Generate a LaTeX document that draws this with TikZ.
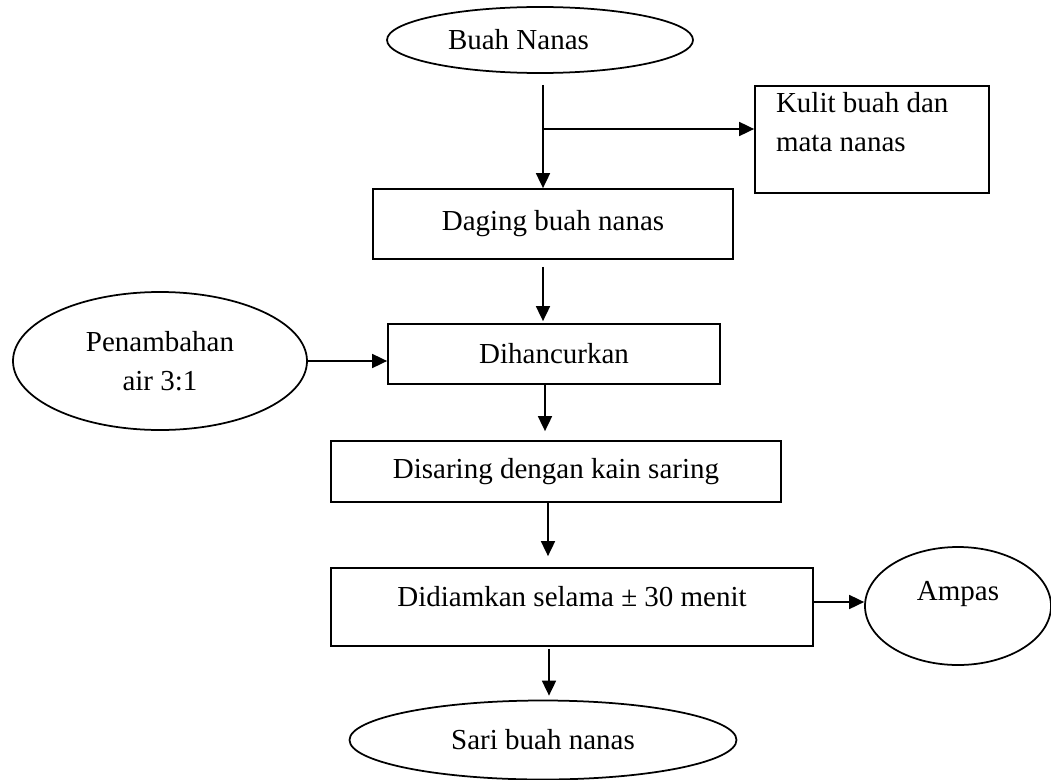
\documentclass[tikz,border=0pt]{standalone}
\usepackage{fontspec}
\setmainfont{Liberation Serif}
\usetikzlibrary{shapes.geometric,arrows.meta}

\begin{document}
\begin{tikzpicture}[x=0.4pt, y=-0.4pt]
  \tikzstyle{every node}=[font=\fontsize{11.6pt}{15.6pt}\selectfont]
  \tikzstyle{box}=[rectangle, draw, line width=0.7pt, inner sep=0pt]
  \tikzstyle{oval}=[ellipse, draw, line width=0.7pt, inner sep=0pt]
  \tikzstyle{arrow}=[-{Triangle[length=6pt,width=5.6pt]}, line width=0.7pt]

  \useasboundingbox (0,0) rectangle (1051,779);

  \node[oval, minimum width=122.4pt, minimum height=26.4pt,
        text width=73.6pt, align=flush left]                (buah)   at (540,40)    {Buah Nanas};
  \node[box, minimum width=93.6pt, minimum height=42.8pt,
        text width=76.8pt, align=flush left, text depth=29.6pt] (kulit) at (872,139.5) {Kulit buah dan\\mata nanas};
  \node[box, minimum width=144pt, minimum height=28pt]       (daging) at (553,224)   {Daging buah nanas};
  \node[oval, minimum width=117.6pt, minimum height=55.2pt,
        align=center]                                       (tambah) at (160,361)   {Penambahan\\air 3:1};
  \node[box, minimum width=132.8pt, minimum height=24pt]     (hancur) at (554,354)   {Dihancurkan};
  \node[box, minimum width=180pt, minimum height=24.4pt]     (saring) at (556,471.5) {Disaring dengan kain saring};
  \node[box, minimum width=192.8pt, minimum height=31.2pt,
        text depth=8.8pt]                                   (diam)   at (572,607)   {Didiamkan selama ± 30 menit};
  \node[oval, minimum width=74.4pt, minimum height=47.2pt,
        text depth=12.4pt]                                  (ampas)  at (958,606)   {Ampas};
  \node[oval, minimum width=154.8pt, minimum height=31.6pt]  (sari)   at (543,740)   {Sari buah nanas};

  % main line
  \draw[arrow] ([xshift=1.2pt,yshift=-4.4pt]buah.south) coordinate (t1) -- (t1 |- daging.north);
  \path ([yshift=4.2pt]kulit.west) coordinate (k1);
  \draw[arrow] (k1 -| t1) -- (k1);
  \draw[arrow, shorten >=0.8pt] ([xshift=-4pt,yshift=-2.8pt]daging.south) coordinate (t2) -- (t2 |- hancur.north);
  \draw[arrow] (tambah.east) -- (hancur.west |- tambah.east);
  \draw[arrow, shorten >=3.6pt] ([xshift=-3.6pt]hancur.south) coordinate (t3) -- (t3 |- saring.north);
  \draw[arrow, shorten >=4.4pt] ([xshift=-3.2pt]saring.south) coordinate (t4) -- (t4 |- diam.north);
  \draw[arrow] ([yshift=2pt]diam.east) coordinate (t5) -- (t5 -| ampas.west);
  \draw[arrow, shorten >=1.6pt] ([xshift=-9.2pt,yshift=-0.8pt]diam.south) coordinate (t6) -- (t6 |- sari.north);
\end{tikzpicture}
\end{document}
